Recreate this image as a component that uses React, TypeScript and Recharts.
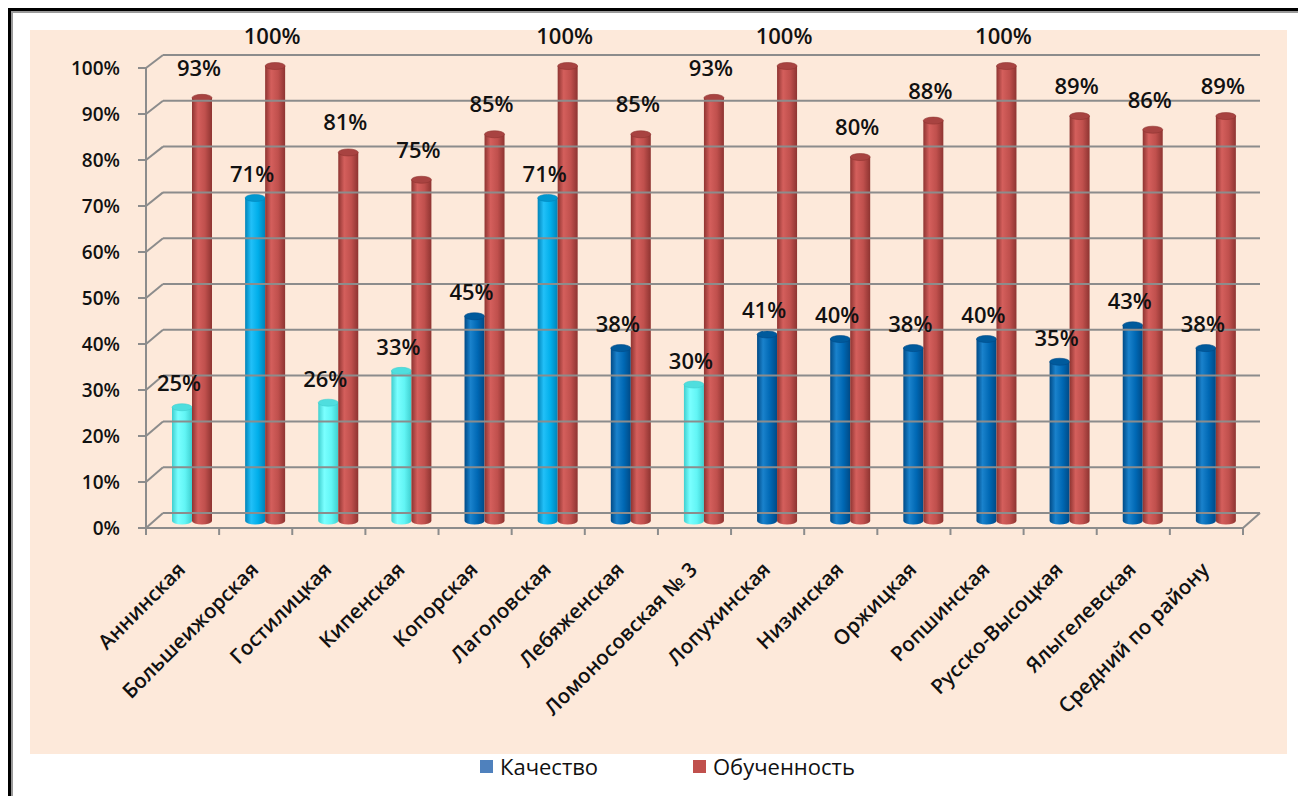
import { BarChart, Bar, XAxis, YAxis, Cell, LabelList } from 'recharts';

const categories = [
  'Аннинская',
  'Большеижорская',
  'Гостилицкая',
  'Кипенская',
  'Копорская',
  'Лаголовская',
  'Лебяженская',
  'Ломоносовская № 3',
  'Лопухинская',
  'Низинская',
  'Оржицкая',
  'Ропшинская',
  'Русско-Высоцкая',
  'Ялыгелевская',
  'Средний по району',
];
const quality = [25, 71, 26, 33, 45, 71, 38, 30, 41, 40, 38, 40, 35, 43, 38];
const qualityTone = ['light', 'sky', 'light', 'light', 'dark', 'sky', 'dark', 'light', 'dark', 'dark', 'dark', 'dark', 'dark', 'dark', 'dark'];
const trained = [93, 100, 81, 75, 85, 100, 85, 93, 100, 80, 88, 100, 89, 86, 89];
const yTicks = [0, 10, 20, 30, 40, 50, 60, 70, 80, 90, 100];

const data = categories.map((name, i) => ({
  name,
  quality: quality[i],
  trained: trained[i],
  tone: qualityTone[i],
}));

const FONT = '"Open Sans", "Noto Sans", sans-serif';
const GRID = '#8c8c8c';
const FRONT_X = 146;
const BACK_X = 163;
const FLOOR_RIGHT = 1243;
const BACK_RIGHT = 1260;
const BAND = (FLOOR_RIGHT - FRONT_X) / categories.length;

const tones: Record<string, { edge: string; light: string; base: string; top: string }> = {
  light: { edge: '#3fcfcf', light: '#7affff', base: '#62f5f5', top: '#4fdede' },
  sky: { edge: '#0083b8', light: '#22c0f8', base: '#00aeea', top: '#0098d0' },
  dark: { edge: '#004a86', light: '#1a82cc', base: '#0068b4', top: '#005a9c' },
  red: { edge: '#8e3431', light: '#d45f5c', base: '#c0504d', top: '#a84341' },
};

// front labels and back wall positions, derived from the bar scale position
const frontY = (barY: number, v: number) => barY + 7 - 0.05 * v;
const backY = (barY: number, v: number) => barY - 8 - 0.03 * v;

const YTick = (props: any) => {
  const { y, payload } = props;
  const v = Number(payload.value);
  const fy = frontY(y, v);
  const by = backY(y, v);
  return (
    <g>
      <line x1={BACK_X} y1={by} x2={BACK_RIGHT} y2={by} stroke={GRID} strokeWidth={2} />
      <line x1={FRONT_X} y1={fy} x2={BACK_X} y2={by} stroke={GRID} strokeWidth={2} />
      <line x1={FRONT_X - 8} y1={fy} x2={FRONT_X} y2={fy} stroke={GRID} strokeWidth={2} />
      {v === 0 && (
        <g>
          <line x1={FRONT_X} y1={fy} x2={FRONT_X} y2={frontY(66, 100)} stroke={GRID} strokeWidth={2} />
          <line x1={FRONT_X} y1={fy} x2={FLOOR_RIGHT} y2={fy} stroke={GRID} strokeWidth={2} />
          <line x1={FLOOR_RIGHT} y1={fy} x2={BACK_RIGHT} y2={by} stroke={GRID} strokeWidth={2} />
          {categories.map((_, i) => (
            <line key={i} x1={FRONT_X + i * BAND} y1={fy} x2={FRONT_X + i * BAND} y2={fy + 7} stroke={GRID} strokeWidth={2} />
          ))}
          <line x1={FLOOR_RIGHT} y1={fy} x2={FLOOR_RIGHT} y2={fy + 7} stroke={GRID} strokeWidth={2} />
        </g>
      )}
      <text x={120} y={fy} textAnchor="end" dominantBaseline="central" fontFamily={FONT} fontSize={19} fontWeight={600} fill="#111">
        {v}%
      </text>
    </g>
  );
};

const XTick = (props: any) => {
  const { x, payload } = props;
  const ax = Number(x) - 9 + 4;
  const ay = 571;
  return (
    <text
      x={ax}
      y={ay}
      textAnchor="end"
      transform={`rotate(-45, ${ax}, ${ay})`}
      fontFamily={FONT}
      fontSize={20.5}
      fontWeight={600}
      fill="#111"
    >
      {payload.value}
    </text>
  );
};

const Cylinder = (props: any) => {
  const { x, y, width, height, tone } = props;
  const c = tones[tone];
  const rx = width / 2;
  const ry = 3.5;
  const bottom = y + height;
  const d = `M${x},${y} L${x},${bottom} A${rx},${ry} 0 0 0 ${x + width},${bottom} L${x + width},${y} Z`;
  return (
    <g>
      <path d={d} fill={`url(#cyl-${tone})`} />
      <ellipse cx={x + rx} cy={y} rx={rx} ry={ry} fill={c.top} stroke={c.edge} strokeWidth={0.6} />
    </g>
  );
};

const makeLabel = (lift: number) => (props: any) => {
  const { x, y, width, value } = props;
  return (
    <text
      x={Number(x) + Number(width) / 2 - 3}
      y={Number(y) - lift}
      textAnchor="middle"
      dominantBaseline="central"
      fontFamily={FONT}
      fontSize={22}
      fontWeight={600}
      fill="#111"
    >
      {value}%
    </text>
  );
};

export default function App() {
  return (
    <div style={{ position: 'absolute', left: 0, top: 0, width: 1298, height: 796, overflow: 'hidden', background: '#fff' }}>
      <div
        style={{
          position: 'absolute',
          left: 8,
          top: 8,
          width: 1300,
          height: 800,
          borderLeft: '3px solid #000',
          borderTop: '3px solid #000',
        }}
      >
        <div style={{ width: '100%', height: '100%', borderLeft: '2px solid #9a9a9a', borderTop: '2px solid #9a9a9a' }} />
      </div>
      <div style={{ position: 'absolute', left: 30, top: 30, width: 1257, height: 724, background: '#fde9da' }} />
      <div style={{ position: 'absolute', left: 0, top: 0 }}>
        <BarChart
          width={1298}
          height={796}
          data={data}
          margin={{ top: 66, right: 46, left: 95, bottom: 75 }}
          barSize={20}
          barGap={0}
        >
          <defs>
            {Object.entries(tones).map(([k, c]) => (
              <linearGradient key={k} id={`cyl-${k}`} x1="0" y1="0" x2="1" y2="0">
                <stop offset="0%" stopColor={c.edge} />
                <stop offset="30%" stopColor={c.light} />
                <stop offset="65%" stopColor={c.base} />
                <stop offset="100%" stopColor={c.edge} />
              </linearGradient>
            ))}
          </defs>
          <YAxis
            domain={[0, 100]}
            ticks={yTicks}
            width={60}
            axisLine={false}
            tickLine={false}
            tick={(p: any) => <YTick {...p} />}
          />
          <XAxis
            dataKey="name"
            interval={0}
            height={200}
            axisLine={false}
            tickLine={false}
            tick={(p: any) => <XTick {...p} />}
          />
          <Bar
            dataKey="quality"
            isAnimationActive={false}
            shape={(p: any) => <Cylinder {...p} tone={p.payload.tone} />}
          >
            {data.map((d, i) => (
              <Cell key={`q-${i}`} fill={tones[d.tone].base} />
            ))}
            <LabelList dataKey="quality" content={makeLabel(25)} />
          </Bar>
          <Bar
            dataKey="trained"
            isAnimationActive={false}
            fill="#c0504d"
            shape={(p: any) => <Cylinder {...p} tone="red" />}
          >
            <LabelList dataKey="trained" content={makeLabel(31)} />
          </Bar>
        </BarChart>
      </div>
      <div
        style={{
          position: 'absolute',
          left: 480,
          top: 753,
          display: 'flex',
          alignItems: 'center',
          fontFamily: FONT,
          fontSize: 22,
          color: '#111',
          height: 26,
        }}
      >
        <span style={{ width: 13, height: 13, background: '#4f81bd', marginRight: 7 }} />
        <span style={{ width: 193 }}>Качество</span>
        <span style={{ width: 13, height: 13, background: '#c0504d', marginRight: 7 }} />
        <span>Обученность</span>
      </div>
    </div>
  );
}
